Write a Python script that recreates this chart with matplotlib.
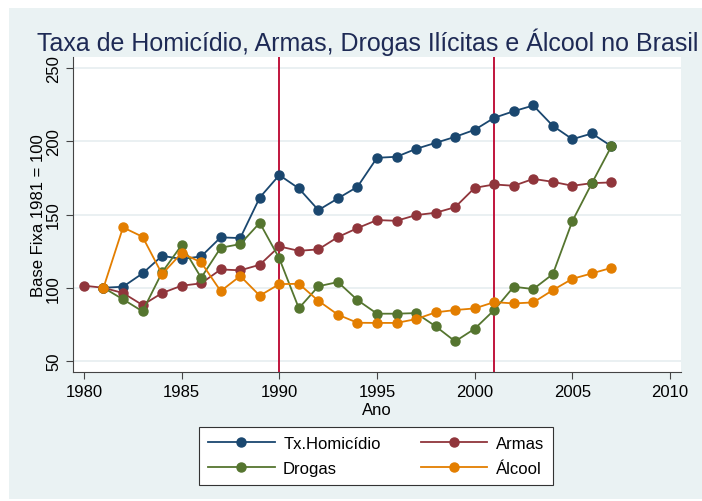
import matplotlib.pyplot as plt
from matplotlib.patches import Rectangle

plt.rcParams['font.family'] = ['Liberation Sans', 'DejaVu Sans']

anos = list(range(1981, 2008))
anos_armas = list(range(1980, 2008))

homicidio = [100, 100.7, 109.8, 121.8, 119.6, 121.4, 134.4, 133.9, 161.6, 176.9,
             167.8, 153, 161, 168.9, 188.7, 189.4, 194.8, 198.9, 203, 207.8,
             216, 220.5, 224.4, 210.5, 201.4, 205.3, 196.6]
armas = [101.4, 100, 96.4, 88.2, 96.4, 101.4, 103, 112.5, 111.9, 115.7, 128.2,
         125.2, 126.2, 134.6, 140.7, 146.2, 145.7, 149.6, 151.2, 155, 168.2,
         170.5, 169.6, 174.3, 172.3, 169.6, 171.4, 171.9]
drogas = [100, 92.1, 83.9, 110.5, 129.1, 106.8, 127.3, 129.8, 144.3, 120,
          86, 101, 103.9, 91.6, 82.3, 82.3, 82.7, 73.7, 63.4, 72,
          84.8, 100.7, 99.1, 109.3, 145.5, 171.4, 196.6]
alcool = [100, 141.2, 134.8, 109.3, 123.7, 117.3, 97.7, 108, 94.6, 102.5,
          102.7, 91.1, 81.6, 76.1, 76, 76, 78.6, 83.2, 84.8, 85.9,
          90.2, 89.3, 90, 98.4, 106.1, 109.8, 113.6]

marcos = [1990, 2001]
xticks = [1980, 1985, 1990, 1995, 2000, 2005, 2010]
yticks = [50, 100, 150, 200, 250]

fundo = '#eaf2f3'

fig = plt.figure(figsize=(7.02, 5.02), dpi=100, facecolor='white')
fig.add_artist(Rectangle((9/702, 2/502), 1, 491/502, transform=fig.transFigure,
                         facecolor=fundo, edgecolor='none', zorder=-5))
ax = fig.add_axes([73/702, 129/502, 608/702, 315/502])
ax.set_facecolor('white')

for y in yticks:
    ax.axhline(y, color='#e6eef0', lw=1.2, zorder=0)
for m in marcos:
    ax.axvline(m, color='#c0143c', lw=1.4, zorder=1)

estilo = dict(marker='o', markersize=6.5, lw=1.3, zorder=3)
l1, = ax.plot(anos, homicidio, color='#1a476f', label='Tx.Homicídio', **estilo)
l2, = ax.plot(anos_armas, armas, color='#90353b', label='Armas', **estilo)
l3, = ax.plot(anos, drogas, color='#55752f', label='Drogas', **estilo)
l4, = ax.plot(anos, alcool, color='#e37e00', label='Álcool', **estilo)

ax.set_xlim(1979.44, 2010.56)
ax.set_ylim(42.5, 257.5)
ax.set_xticks(xticks)
ax.set_yticks(yticks)
ax.tick_params(axis='both', labelsize=12, length=5, color='#444444')
for lab in ax.get_yticklabels():
    lab.set_rotation(90)
    lab.set_va('center')
for s in ['top', 'right']:
    ax.spines[s].set_visible(False)
for s in ['left', 'bottom']:
    ax.spines[s].set_color('#444444')

ax.set_xlabel('Ano', fontsize=12, labelpad=2)
ax.set_ylabel('Base Fixa 1981 = 100', fontsize=12, labelpad=0)
fig.text(368/702, 1 - 42/502, 'Taxa de Homicídio, Armas, Drogas Ilícitas e Álcool no Brasil',
         ha='center', va='center', fontsize=18, color='#1e2a55')

leg = fig.legend([l1, l3, l2, l4], ['Tx.Homicídio', 'Drogas', 'Armas', 'Álcool'],
                 loc='center', bbox_to_anchor=(376/702, 1 - 457/502), ncol=2,
                 fontsize=12, handlelength=4, handletextpad=0.5, columnspacing=2.4,
                 frameon=True, fancybox=False, edgecolor='#333333', framealpha=1,
                 facecolor='white', borderpad=0.55, labelspacing=0.6)
leg.get_frame().set_linewidth(0.8)

fig.savefig('out.png', dpi=100, facecolor=fig.get_facecolor())
